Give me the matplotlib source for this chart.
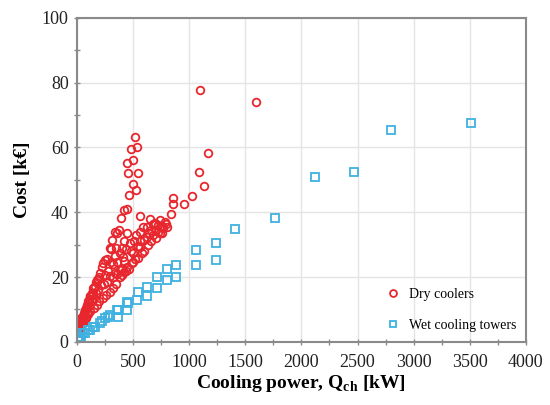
import matplotlib
matplotlib.use("Agg")
import matplotlib.pyplot as plt
from matplotlib.ticker import MultipleLocator

# Dry coolers: cooling power [kW], cost [kEUR]
dry_q = [1096, 1595, 1164, 1090, 1131, 1022, 956, 858, 858, 835,
         517, 481, 532, 442, 496, 457, 540, 496, 526, 466, 443, 421, 389, 374, 339,
         309, 300, 235, 220, 175, 160, 145,
         561, 650, 695, 739, 784, 800, 770, 561, 620, 680, 724, 561, 635, 502, 546,
         487, 443, 412, 383, 339, 294,
         250, 270, 280, 320, 340, 360, 400, 420, 450, 470, 480, 510, 530, 590, 600,
         620, 660, 700, 740, 760, 790, 600, 580, 520, 500, 460, 420, 380, 350, 320,
         290, 260, 230, 200, 180, 150, 120, 100, 80, 60, 40, 20, 10, 30, 50, 70, 90,
         110, 130, 150, 170, 190, 210, 240, 200, 190, 170, 140, 120, 100, 80, 60, 40,
         30, 20, 60, 80, 100, 110, 130, 150, 125, 90, 70, 50, 270, 300, 320, 360, 400,
         420, 440, 380, 350, 540, 560, 640, 660, 700, 720, 760, 680, 400, 440,
         5, 15, 25, 12, 42, 71, 116, 205, 250, 294, 354]
dry_cost = [77.6, 74.0, 58.2, 52.3, 48.1, 45.1, 42.5, 44.5, 42.5, 39.4,
            63.2, 59.6, 60.0, 55.2, 56.2, 52.1, 52.1, 48.7, 46.9, 45.4, 41.0, 40.7, 38.2, 34.6, 34.0,
            31.5, 28.6, 24.3, 23.2, 19.1, 17.1, 15.0,
            38.7, 37.9, 36.6, 37.7, 37.1, 35.5, 35.0, 34.0, 32.3, 33.0, 34.0, 29.4, 29.9, 27.4, 25.8,
            24.3, 23.2, 26.3, 22.2, 21.2, 20.2,
            20.5, 18.5, 22.0, 24.0, 26.5, 24.5, 29.0, 31.0, 33.5, 30.5, 28.0, 31.0, 33.0, 35.5, 31.5,
            35.5, 34.5, 32.0, 33.5, 35.8, 36.5, 28.0, 27.5, 25.5, 24.5, 22.5, 21.5, 20.0, 18.0, 16.5,
            15.5, 14.5, 13.5, 12.5, 11.5, 10.5, 9.5, 8.5, 7.5, 6.5, 5.5, 4.5, 4.0, 5.0, 6.0, 7.0, 9.0,
            11.0, 12.5, 13.5, 15.0, 16.0, 17.5, 18.0, 20.0, 19.5, 18.5, 16.5, 14.0, 12.0, 10.0, 8.5, 7.5,
            6.5, 6.0, 9.0, 10.5, 12.5, 13.0, 15.0, 16.5, 14.0, 11.5, 9.5, 8.0, 25.5, 24.5, 20.0, 21.0, 22.5,
            25.0, 28.5, 27.5, 29.0, 29.5, 31.0, 33.5, 31.0, 34.5, 36.0, 33.5, 36.5, 20.5, 22.0,
            3.5, 4.5, 4.0, 3.7, 6.8, 9.9, 14.0, 21.3, 25.3, 28.9, 33.5]

# Wet cooling towers
wet_q = [5, 10, 15, 20, 27, 30, 40, 56, 71, 100, 116, 145, 160, 205, 220, 250, 279, 294,
         354, 368, 368, 443, 443, 457, 531, 540, 620, 627, 710, 710, 799, 805, 880, 880,
         1060, 1060, 1236, 1236, 1410, 1764, 2120, 2468, 2800, 3510]
wet_cost = [0.3, 0.5, 0.8, 1.0, 1.6, 1.2, 1.5, 2.7, 2.7, 3.7, 3.7, 4.7, 4.7, 5.8, 6.3, 7.3, 7.8, 8.3,
            9.9, 7.8, 9.9, 9.9, 12.4, 11.9, 13.0, 15.5, 14.0, 16.9, 16.5, 20.0, 19.0, 22.6, 20.0, 23.8,
            23.8, 28.2, 25.3, 30.6, 34.8, 38.2, 50.8, 52.4, 65.5, 67.5]

plt.rcParams['font.family'] = ['Liberation Serif', 'DejaVu Serif']
plt.rcParams['mathtext.fontset'] = 'custom'
plt.rcParams['mathtext.rm'] = 'Liberation Serif'
plt.rcParams['mathtext.bf'] = 'Liberation Serif:bold'

fig = plt.figure(figsize=(5.5, 4.05), dpi=100)
ax = fig.add_axes([0.14, 0.156, 0.816, 0.8])

ax.plot(dry_q, dry_cost, 'o', ms=5.5, mfc='none', mec='#e8262d', mew=1.3,
        label='Dry coolers')
ax.plot(wet_q, wet_cost, 's', ms=5.5, mfc='none', mec='#3fb1e0', mew=1.3,
        label='Wet cooling towers')

ax.set_xlim(0, 4000)
ax.set_ylim(0, 100)
ax.xaxis.set_major_locator(MultipleLocator(500))
ax.xaxis.set_minor_locator(MultipleLocator(250))
ax.yaxis.set_major_locator(MultipleLocator(20))
ax.yaxis.set_minor_locator(MultipleLocator(10))
ax.grid(True, which='major', color='#e4e4e4', lw=1.0)
ax.set_axisbelow(True)
for s in ax.spines.values():
    s.set_color('#8a8a8a')
    s.set_linewidth(1.5)
ax.tick_params(which='both', direction='inout', length=5, width=1,
               color='#8a8a8a', labelsize=13, labelcolor='#222222')
ax.tick_params(axis='x', pad=6)

ax.set_xlabel('Cooling power, Q$_{\\mathbf{ch}}$ [kW]', fontsize=14,
              fontweight='bold', labelpad=2)
ax.set_ylabel('Cost [k€]', fontsize=14, fontweight='bold', labelpad=8)

ax.legend(loc='lower right', frameon=False, fontsize=10, handletextpad=0.1,
          borderaxespad=0.3, labelspacing=1.3, markerscale=0.9,
          bbox_to_anchor=(1.0, 0.0))

fig.savefig('out.png', dpi=100)
